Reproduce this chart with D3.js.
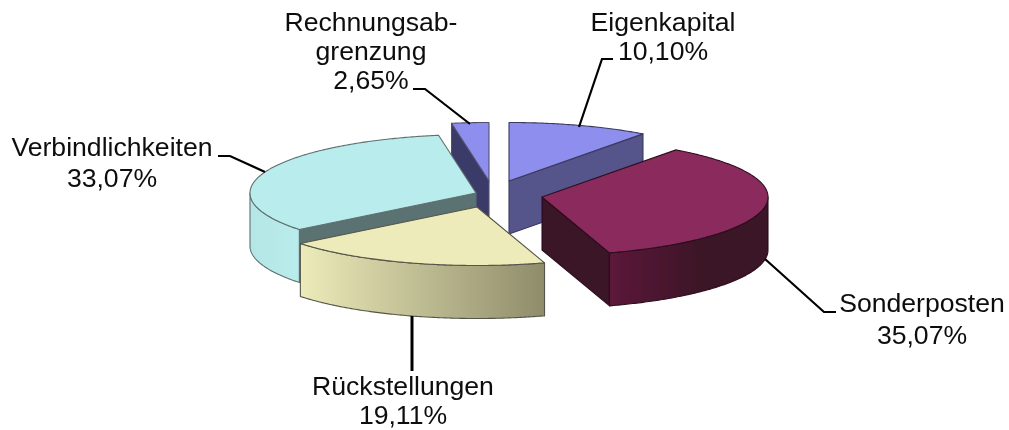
<!DOCTYPE html>
<html><head><meta charset="utf-8">
<script src="https://cdnjs.cloudflare.com/ajax/libs/d3/7.8.5/d3.min.js"></script>
<style>html,body{margin:0;padding:0;background:#fff}svg{display:block}
text{font-family:"Liberation Sans",Arial,sans-serif;font-size:26.6px;fill:#0d0d0d}</style>
</head><body><svg id="c" width="1009" height="430"></svg>
<script>
const categories = ["Eigenkapital","Sonderposten","Rückstellungen","Verbindlichkeiten","Rechnungsabgrenzung"];
const shares = [10.10,35.07,19.11,33.07,2.65];
const valueLabels = ["10,10%","35,07%","19,11%","33,07%","2,65%"];
const labelLines = [["Eigenkapital"],["Sonderposten"],["Rückstellungen"],["Verbindlichkeiten"],["Rechnungsab-","grenzung"]];
const topColors = ["#8e8eee","#8b2c5b","#ecebb9","#b9ecec","#8e8eee"];
const cutColors = ["#55558c","#3b1226","#e0dfb0","#5a7272","#3a3a6a"];
const wallStops = [["#55558c","#55558c"],["#5c1a3a","#3b1226"],["#ecebb9","#8f8c6a"],["#b5e6e6","#b9ecec"],["#3a3a6a","#3a3a6a"]];
const strokes = ["#3a3a5e","#2e1020","#55554a","#5f6f6f","#50506e"];

// layout of the exploded pie
const apexX = [509,542,477,476,489], apexY = [181,197,207,193,181];
const labelX = [663,922,403,112,371], labelY = [31,312,395,156,31];
const lineGap = [29,32,29,31,29];
const leaders = [
  [[613,59],[602,59],[579,127]],
  [[836,312],[824,312],[765,259]],
  [[412,316],[412,371]],
  [[218,156],[230,156],[265,172]],
  [[413,89],[425,89],[470,124]]];
const leaderWidth = [2.2,2.2,3,2.2,2.2];
const RX = 226, RY = 58.5, DEPTH = 53, DRAW_ORDER = [4,0,3,1,2];

const svg = d3.select("#c");
const defs = svg.append("defs");
defs.append("filter").attr("id","soft").append("feGaussianBlur").attr("stdDeviation",0.45);
const root = svg.append("g").attr("filter","url(#soft)");

const arcs = d3.pie().sort(null).startAngle(0).endAngle(2*Math.PI)(shares);
const sx = d3.scaleLinear().domain([-1,1]).range([-RX,RX]);
const sy = d3.scaleLinear().domain([-1,1]).range([RY,-RY]);
const px = (i,a)=>apexX[i]+sx(Math.sin(a));
const py = (i,a,d=0)=>apexY[i]+sy(Math.cos(a))+d;
const line = d3.line();
const rim = (i,a0,a1,d=0)=>{const n=Math.max(2,Math.ceil((a1-a0)/0.01));
  return d3.range(n+1).map(k=>{const a=a0+(a1-a0)*k/n;return [px(i,a),py(i,a,d)];});};

DRAW_ORDER.forEach(i=>{
  const {startAngle:a0,endAngle:a1}=arcs[i];
  const g=root.append("g");
  const style=s=>s.attr("stroke",strokes[i]).attr("stroke-width",1.1).attr("stroke-linejoin","round");
  // cut faces
  [[a0,Math.sin(a0)<0],[a1,Math.sin(a1)>0&&a1<2*Math.PI-1e-6]].forEach(([a,vis])=>{
    if(!vis) return;
    g.append("path").attr("d",line([[apexX[i],apexY[i]],[px(i,a),py(i,a)],[px(i,a),py(i,a,DEPTH)],[apexX[i],apexY[i]+DEPTH]])+"Z")
      .attr("fill",cutColors[i]).call(style);
  });
  // outer wall
  const w0=Math.max(a0,Math.PI/2), w1=Math.min(a1,3*Math.PI/2);
  if(w1>w0){
    const top=rim(i,w0,w1), bot=rim(i,w0,w1,DEPTH).reverse();
    const id="wall"+i, xs=top.map(p=>p[0]);
    const gr=defs.append("linearGradient").attr("id",id).attr("gradientUnits","userSpaceOnUse")
      .attr("x1",d3.min(xs)).attr("x2",i===1?d3.min(xs)+95:d3.max(xs)).attr("y1",0).attr("y2",0);
    gr.append("stop").attr("offset",0).attr("stop-color",wallStops[i][0]);
    gr.append("stop").attr("offset",1).attr("stop-color",wallStops[i][1]);
    g.append("path").attr("d",line(top.concat(bot))+"Z").attr("fill",`url(#${id})`).call(style);
  }
  // top face
  g.append("path").attr("d",line([[apexX[i],apexY[i]]].concat(rim(i,a0,a1)))+"Z").attr("fill",topColors[i]).call(style);
});

// leaders
leaders.forEach((pts,i)=>root.append("path").attr("d",line(pts)).attr("fill","none").attr("stroke","#000").attr("stroke-width",leaderWidth[i]));

// labels
categories.forEach((c,i)=>{
  const t=root.append("text").attr("text-anchor","middle");
  labelLines[i].concat([valueLabels[i]]).forEach((s,k)=>
    t.append("tspan").attr("x",labelX[i]).attr("y",labelY[i]+k*lineGap[i]).text(s));
});
</script></body></html>
